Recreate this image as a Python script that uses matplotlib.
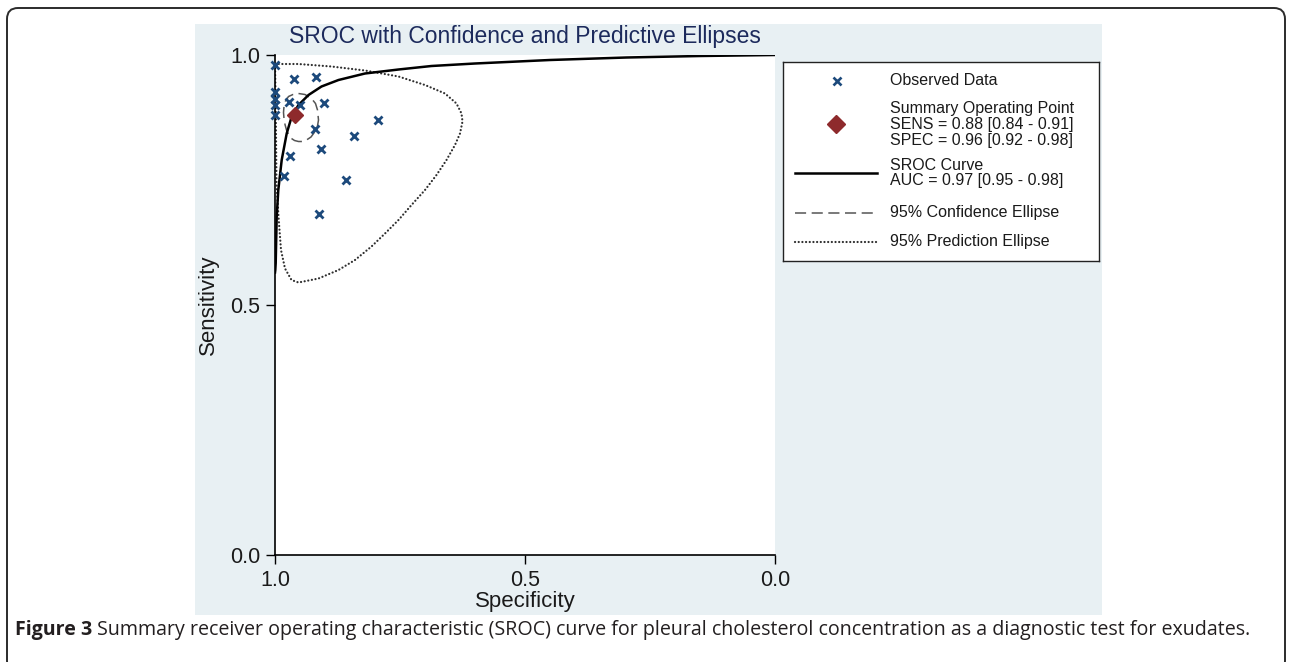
import matplotlib
matplotlib.use("Agg")
import matplotlib.pyplot as plt
from matplotlib.patches import Rectangle, FancyBboxPatch
from matplotlib.lines import Line2D

W, H, DPI = 1289, 662, 100

# observed studies (specificity, sensitivity)
obs_spec = [1.0, 0.962, 0.919, 1.0, 1.0, 1.0, 1.0, 0.973, 0.95, 0.903,
            0.795, 0.92, 0.843, 0.909, 0.971, 0.982, 0.858, 0.912]
obs_sens = [0.98, 0.953, 0.957, 0.927, 0.913, 0.90, 0.88, 0.907, 0.90, 0.905,
            0.871, 0.852, 0.838, 0.813, 0.798, 0.758, 0.75, 0.682]

# summary operating point
sum_spec = 0.96
sum_sens = 0.88

# SROC curve, traced
sroc_spec = [1.0, 0.9994, 0.9986, 0.9966, 0.9934, 0.9866, 0.9766, 0.9666, 0.953,
             0.933, 0.907, 0.873, 0.82, 0.753, 0.687, 0.60, 0.45, 0.297, 0.15, 0.0]
sroc_sens = [0.565, 0.57, 0.584, 0.677, 0.73, 0.79, 0.843, 0.877, 0.90,
             0.92, 0.937, 0.95, 0.963, 0.971, 0.978, 0.983, 0.990, 0.995, 0.998, 1.0]

# 95% confidence ellipse, traced
conf_spec = [0.953, 0.94, 0.927, 0.919, 0.915, 0.913, 0.915, 0.92, 0.928, 0.937,
             0.945, 0.953, 0.961, 0.967, 0.973, 0.977, 0.98, 0.982, 0.983, 0.982,
             0.979, 0.973, 0.964, 0.953]
conf_sens = [0.923, 0.921, 0.913, 0.903, 0.89, 0.87, 0.858, 0.847, 0.836, 0.83,
             0.827, 0.827, 0.829, 0.833, 0.841, 0.85, 0.861, 0.873, 0.885, 0.897,
             0.908, 0.917, 0.921, 0.923]

# 95% prediction ellipse, traced
pred_spec = [1.0, 0.953, 0.887, 0.82, 0.753, 0.70, 0.66, 0.637, 0.627, 0.625,
             0.63, 0.64, 0.657, 0.677, 0.70, 0.727, 0.753, 0.78, 0.807, 0.84,
             0.873, 0.913, 0.953, 0.967, 0.98, 0.988, 0.993, 0.997, 0.998, 0.999, 1.0]
pred_sens = [0.982, 0.982, 0.977, 0.969, 0.957, 0.94, 0.923, 0.903, 0.883, 0.867,
             0.843, 0.82, 0.79, 0.76, 0.73, 0.70, 0.67, 0.643, 0.617, 0.59,
             0.57, 0.553, 0.545, 0.55, 0.573, 0.61, 0.677, 0.744, 0.843, 0.93, 0.982]

legend_sum = ["Summary Operating Point",
              "SENS = 0.88 [0.84 - 0.91]",
              "SPEC = 0.96 [0.92 - 0.98]"]
legend_sroc = ["SROC Curve", "AUC = 0.97 [0.95 - 0.98]"]

ticks = [1.0, 0.5, 0.0]
tick_labels = ["1.0", "0.5", "0.0"]

TITLE = "SROC with Confidence and Predictive Ellipses"
CAP_BOLD = "Figure 3"
CAP_REST = ("Summary receiver operating characteristic (SROC) curve for pleural "
            "cholesterol concentration as a diagnostic test for exudates.")

C_PANEL = "#e8f0f3"
C_OBS = "#1d4a7c"
C_SUM = "#8e2a2c"
C_TITLE = "#1c2a5c"
C_TEXT = "#1a1a1a"

DOTS = dict(color="#2e2e2e", lw=1.6, linestyle=(0, (0.05, 2.6)),
            dash_capstyle="round")
DASH = dict(color="#555555", lw=1.1, linestyle=(0, (8, 4)))

plt.rcParams.update({"font.family": ["Liberation Sans", "DejaVu Sans"],
                     "lines.scale_dashes": False})

fig = plt.figure(figsize=(W / DPI, H / DPI), dpi=DPI)
fig.patch.set_facecolor("white")


def px_box(x0, y0, x1, y1):
    """pixel box (top-left origin) -> inches box for dpi_scale_trans"""
    return x0 / DPI, (H - y1) / DPI, (x1 - x0) / DPI, (y1 - y0) / DPI


# outer rounded frame and the light Stata panel
bx, by, bw, bh = px_box(7, 8, 1285, 672)
fig.patches.append(FancyBboxPatch((bx, by), bw, bh,
                                  boxstyle="round,pad=0,rounding_size=0.11",
                                  transform=fig.dpi_scale_trans, fill=False,
                                  edgecolor="#2b2b2b", linewidth=1.4, zorder=-2))
px0, py0, pw, ph = px_box(195, 24, 1102, 615)
fig.patches.append(Rectangle((px0, py0), pw, ph, transform=fig.dpi_scale_trans,
                             facecolor=C_PANEL, edgecolor="none", zorder=-1))

# main plot area
ax = fig.add_axes([275 / W, 1 - 555 / H, 500 / W, 500 / H])
ax.set_facecolor("white")
ax.set_xlim(1.0, 0.0)
ax.set_ylim(0.0, 1.0)

ax.plot(pred_spec, pred_sens, zorder=2, **DOTS)
ax.plot(conf_spec, conf_sens, zorder=2, **DASH)
ax.plot(sroc_spec, sroc_sens, color="black", lw=1.8, zorder=3,
        solid_joinstyle="round")
ax.plot(obs_spec, obs_sens, linestyle="none", marker="x", ms=6, mew=2.0,
        color=C_OBS, zorder=4, clip_on=False)
ax.plot([sum_spec], [sum_sens], linestyle="none", marker="D", ms=8.5,
        color=C_SUM, mec=C_SUM, zorder=5)

for sp in ("top", "right"):
    ax.spines[sp].set_visible(False)
for sp in ("left", "bottom"):
    ax.spines[sp].set_linewidth(1.2)
    ax.spines[sp].set_color("black")
ax.set_xticks(ticks, tick_labels)
ax.set_yticks(ticks, tick_labels)
ax.tick_params(length=6.5, width=1.0, pad=4, labelsize=15.5,
               labelcolor=C_TEXT)
ax.set_xlabel("Specificity", fontsize=16, color=C_TEXT, labelpad=0)
ax.set_ylabel("Sensitivity", fontsize=16, color=C_TEXT, labelpad=8)

fig.text(525 / W, 1 - 37 / H, TITLE, ha="center", va="center",
         fontsize=16.5, color=C_TITLE)

# legend box, drawn in its own pixel-scaled axes
lx0, ly0, lx1, ly1 = 783, 62, 1099, 261
lax = fig.add_axes([lx0 / W, 1 - ly1 / H, (lx1 - lx0) / W, (ly1 - ly0) / H])
lax.set_xlim(0, lx1 - lx0)
lax.set_ylim(ly1 - ly0, 0)
lax.set_xticks([])
lax.set_yticks([])
lax.set_facecolor("white")
for sp in lax.spines.values():
    sp.set_linewidth(1.0)
    sp.set_color("#222222")

TX = 107
LFS = 11.5
lax.plot([54], [18.7], linestyle="none", marker="x", ms=5.5, mew=1.9, color=C_OBS)
lax.text(TX, 18.7, "Observed Data", va="center", fontsize=LFS, color=C_TEXT)

lax.plot([53], [62], linestyle="none", marker="D", ms=9, color=C_SUM)
for yy, s in zip([46.3, 62.6, 78.5], legend_sum):
    lax.text(TX, yy, s, va="center", fontsize=LFS, color=C_TEXT)

lax.add_line(Line2D([12, 94], [111.3, 111.3], color="black", lw=1.8))
for yy, s in zip([103, 119], legend_sroc):
    lax.text(TX, yy, s, va="center", fontsize=LFS, color=C_TEXT)

lax.add_line(Line2D([12, 94], [150.7, 150.7], **DASH))
lax.text(TX, 150.7, "95% Confidence Ellipse", va="center", fontsize=LFS, color=C_TEXT)

lax.add_line(Line2D([12, 94], [179.7, 179.7], **DOTS))
lax.text(TX, 179.7, "95% Prediction Ellipse", va="center", fontsize=LFS, color=C_TEXT)

# caption: bold lead then regular text
cap_y = 1 - 635 / H
CFS = 14.1
cap1 = fig.text(15 / W, cap_y, CAP_BOLD, fontsize=CFS, weight="bold",
                family=["Open Sans", "DejaVu Sans"], color="#231f20", va="baseline")
fig.canvas.draw()
bb = cap1.get_window_extent()
fig.text((bb.x1 + 5) / W, cap_y, CAP_REST, fontsize=CFS,
         family=["Open Sans", "DejaVu Sans"], color="#231f20", va="baseline")

fig.savefig("out.png", dpi=DPI)
